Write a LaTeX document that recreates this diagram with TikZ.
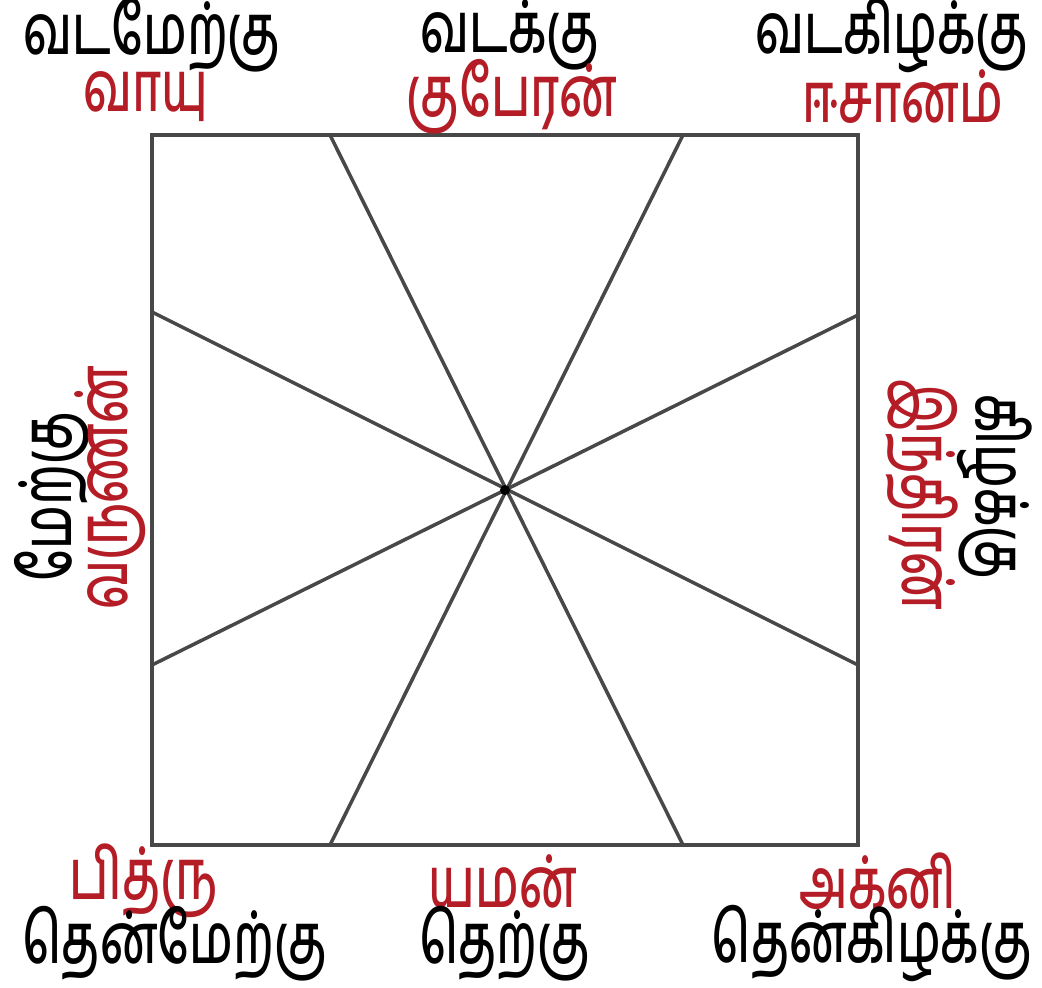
\documentclass[tikz,border=0pt]{standalone}
\usepackage{fontspec}
\usepackage{tikz}
\newfontfamily\tamil[Script=Tamil, FakeStretch=0.69]{Hind Madurai Medium}
\definecolor{deityred}{RGB}{180,28,38}
\definecolor{linegray}{RGB}{72,72,72}

\begin{document}
\begin{tikzpicture}[
    x=0.01cm, y=-0.01cm,
    dir/.style={font=\tamil\fontsize{20}{22}\selectfont, text=black, inner sep=0pt},
    deity/.style={font=\tamil\fontsize{20}{22}\selectfont, text=deityred, inner sep=0pt},
    frame/.style={draw=linegray, line width=1.3pt},
    ray/.style={draw=linegray, line width=1pt}
]
\useasboundingbox (0,0) rectangle (1042,988);

% Points on the square
\coordinate (ctr) at (505,490);
\coordinate (nw) at (152,135);
\coordinate (se) at (858,845);
\coordinate (top1) at (330,135);
\coordinate (top2) at (683,135);
\coordinate (bot1) at (330,845);
\coordinate (bot2) at (683,845);
\coordinate (left1) at (152,312);
\coordinate (left2) at (152,665);
\coordinate (right1) at (858,315);
\coordinate (right2) at (858,665);

% Rays
\draw[ray] (top1) -- (bot2);
\draw[ray] (top2) -- (bot1);
\draw[ray] (left1) -- (right2);
\draw[ray] (right1) -- (left2);

% Square
\draw[frame] (nw) rectangle (se);
\fill (ctr) circle (5);

% North
\node[dir] (northwest) at (152,35) {வடமேற்கு};
\node[deity] (vayu) at (146,97) {வாயு};
\node[dir] (north) at (510,35) {வடக்கு};
\node[deity] (kuberan) at (512,97) {குபேரன்};
\node[dir] (northeast) at (892,35) {வடகிழக்கு};
\node[deity] (esanam) at (903,97) {ஈசானம்};

% West and east
\node[dir, rotate=90] (west) at (52,497) {மேற்கு};
\node[deity, rotate=90] (varunan) at (110,488) {வருணன்};
\node[deity, rotate=-90] (indiran) at (922,495) {இந்திரன்};
\node[dir, rotate=-90] (east) at (995,487) {கிழக்கு};

% South
\node[deity] (pithru) at (144,881) {பித்ரு};
\node[dir] (southwest) at (175,944) {தென்மேற்கு};
\node[deity] (yaman) at (503,881) {யமன்};
\node[dir] (south) at (505,944) {தெற்கு};
\node[deity] (agni) at (878,881) {அக்னி};
\node[dir] (southeast) at (872,944) {தென்கிழக்கு};

\end{tikzpicture}
\end{document}
